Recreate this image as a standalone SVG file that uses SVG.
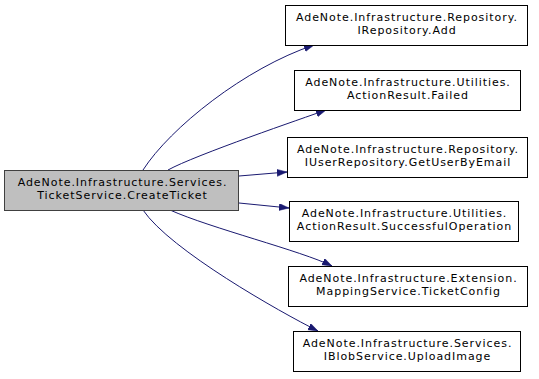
<svg xmlns="http://www.w3.org/2000/svg" width="539" height="379" viewBox="0 0 539 379">
  <style>
    .node rect { fill: #ffffff; stroke: #000000; stroke-width: 1; }
    #root rect { fill: #bfbfbf; stroke: #404040; }
    text { font-family: "DejaVu Sans", "Liberation Sans", sans-serif; font-size: 11px; letter-spacing: 0.95px; text-anchor: middle; fill: #000000; }
    .edge { fill: none; stroke: #191970; stroke-width: 1; marker-end: url(#arrow); }
  </style>
  <defs>
    <marker id="arrow" markerUnits="userSpaceOnUse" markerWidth="11" markerHeight="8" refX="10" refY="3.5" orient="auto">
      <path d="M0,0 L10,3.5 L0,7 z" fill="#191970" stroke="#191970" stroke-width="0.5"/>
    </marker>
  </defs>
  <rect width="539" height="379" fill="#ffffff"/>

  <g id="edges">
    <path class="edge" d="M143,170 C170,128 245,68 314,45"/>
    <path class="edge" d="M168,170 C195,155 304,118 326,110"/>
    <path class="edge" d="M239,176 L287,172"/>
    <path class="edge" d="M239,203 L289,208"/>
    <path class="edge" d="M170,210 C210,228 302,251 332,266"/>
    <path class="edge" d="M143,210 C170,250 280,312 318,331"/>
  </g>

  <g id="root" class="node">
    <rect x="4.5" y="170.5" width="234" height="40"/>
    <text x="122.5" y="185.5">AdeNote.Infrastructure.Services.</text>
    <text x="122.5" y="198.5">TicketService.CreateTicket</text>
  </g>

  <g id="n_add" class="node">
    <rect x="285.5" y="5.5" width="242" height="40"/>
    <text x="407" y="20.5">AdeNote.Infrastructure.Repository.</text>
    <text x="407" y="33.5">IRepository.Add</text>
  </g>

  <g id="n_failed" class="node">
    <rect x="294.5" y="70.5" width="226" height="40"/>
    <text x="408" y="85.5">AdeNote.Infrastructure.Utilities.</text>
    <text x="408" y="98.5">ActionResult.Failed</text>
  </g>

  <g id="n_getuser" class="node">
    <rect x="287.5" y="137.5" width="240" height="40"/>
    <text x="408" y="152.5">AdeNote.Infrastructure.Repository.</text>
    <text x="408" y="165.5">IUserRepository.GetUserByEmail</text>
  </g>

  <g id="n_success" class="node">
    <rect x="289.5" y="201.5" width="229" height="40"/>
    <text x="404.5" y="216.5">AdeNote.Infrastructure.Utilities.</text>
    <text x="404.5" y="229.5">ActionResult.SuccessfulOperation</text>
  </g>

  <g id="n_ticketconfig" class="node">
    <rect x="288.5" y="266.5" width="239" height="40"/>
    <text x="408.5" y="281.5">AdeNote.Infrastructure.Extension.</text>
    <text x="408.5" y="294.5">MappingService.TicketConfig</text>
  </g>

  <g id="n_upload" class="node">
    <rect x="293.5" y="331.5" width="227" height="40"/>
    <text x="407.5" y="346.5">AdeNote.Infrastructure.Services.</text>
    <text x="407.5" y="359.5">IBlobService.UploadImage</text>
  </g>
</svg>
